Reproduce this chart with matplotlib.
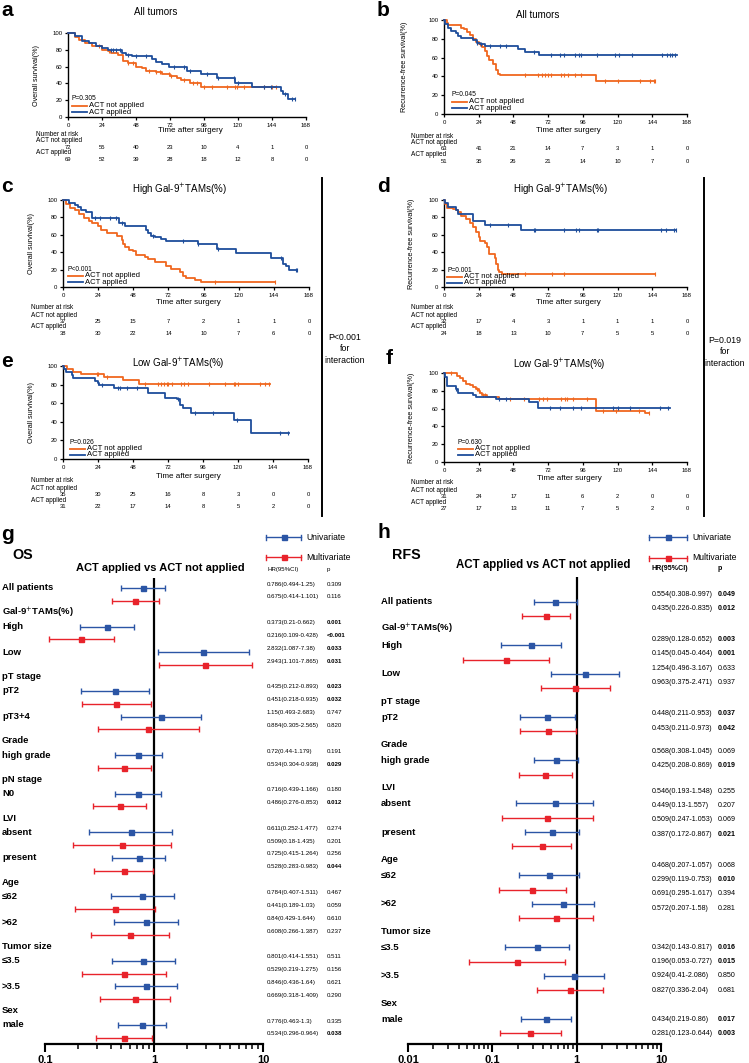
import matplotlib
matplotlib.use('Agg')
import matplotlib.pyplot as plt
import numpy as np
from matplotlib.lines import Line2D
from matplotlib.transforms import blended_transform_factory

# ---------------- data: Kaplan-Meier curves (time in months, survival %) ----------------
a_no_t = [0, 5, 8, 12, 17, 24, 28, 30, 35, 39, 42, 48, 52, 55, 62, 66, 72, 77, 80, 86, 94]
a_no_s = [100, 95, 92, 88, 85, 80, 78, 76, 74, 67, 64, 60, 58, 55, 53, 51, 49, 47, 44, 40, 36]
a_no_cens = [22, 29, 42, 46, 57, 62, 65, 71, 73, 82, 88, 91, 96, 102, 112, 118, 119, 124, 138, 144, 147]
a_yes_t = [0, 5, 10, 15, 20, 24, 28, 38, 41, 45, 59, 62, 66, 71, 84, 94, 105, 118, 130, 150, 152, 155]
a_yes_s = [100, 96, 91, 88, 85, 82, 80, 76, 74, 73, 69, 66, 63, 60, 55, 51, 47, 41, 36, 31, 27, 22]
a_yes_cens = [30, 32, 34, 37, 42, 48, 55, 75, 82, 86, 98, 106, 117, 120, 138, 143, 153, 158, 160]

b_no_t = [0, 2, 3, 12, 14, 16, 18, 20, 22, 24, 26, 28, 30, 31, 34, 36, 37, 39, 105]
b_no_s = [100, 97, 95, 92, 90, 87, 84, 80, 77, 74, 71, 67, 62, 57, 53, 47, 43, 42, 35]
b_no_cens = [25, 56, 65, 67.5, 70, 72, 74, 81, 83, 86, 90.5, 95, 111, 120, 135.6, 142.6, 145, 146]
b_yes_t = [0, 1, 3, 5, 8, 10, 12, 20, 23, 25, 28, 51, 56, 66]
b_yes_s = [100, 96, 91, 88, 86, 83, 81, 79, 76, 74, 72, 69, 66, 63]
b_yes_cens = [23, 25.4, 31.7, 39, 43, 62, 74, 80, 83, 90.6, 93.4, 94.5, 106, 118, 121, 130,
              151, 154, 156, 157.6, 160]

c_no_t = [0, 2, 5, 8, 11, 14, 18, 20, 24, 26, 30, 37, 40, 41, 42, 45, 48, 50, 56, 58, 63,
          70, 74, 80, 82, 84, 90, 94]
c_no_s = [100, 95, 91, 89, 84, 79, 76, 73, 70, 65, 62, 59, 54, 49, 46, 43, 41, 37, 34, 32, 29,
          24, 21, 17, 13, 10, 8, 6]
c_no_cens = [104, 145]
c_yes_t = [0, 4, 8, 10, 12, 16, 20, 38, 42, 57, 58, 60, 63, 67, 70, 92, 105, 118, 142, 150, 152, 154]
c_yes_s = [100, 97, 94, 92, 89, 86, 79, 73, 70, 66, 62, 59, 57, 55, 53, 50, 44, 39, 33, 27, 24, 20]
c_yes_cens = [22, 25, 32, 36, 40, 61.5, 82, 92, 106, 149, 159, 160]

d_no_t = [0, 1, 2, 6, 8, 10, 12, 15, 18, 20, 22, 24, 25, 28, 30, 31, 35, 36, 37, 38, 40]
d_no_s = [100, 95, 91, 90, 89, 86, 82, 78, 73, 69, 63, 57, 53, 51, 46, 38, 33, 27, 20, 17, 15]
d_no_cens = [56, 75, 83, 146]
d_yes_t = [0, 1, 3, 8, 10, 20, 28, 53]
d_yes_s = [100, 96, 92, 88, 84, 76, 71, 65]
d_yes_cens = [31.6, 44, 62, 62.6, 83, 91.5, 93, 106, 106.5, 150, 153.7, 158.8, 160.6]

e_no_t = [0, 3, 7, 12, 28, 41, 52]
e_no_s = [100, 97, 94, 91, 88, 85, 81]
e_no_cens = [23, 24, 30, 56, 65, 67, 69, 71, 72, 74.5, 81, 83, 86, 100, 111, 117, 118, 120,
             135, 138.5, 141]
e_yes_t = [0, 1, 2, 6, 7, 22, 24, 25, 35, 58, 70, 78, 80, 82, 88, 117, 129]
e_yes_s = [100, 97, 94, 90, 87, 84, 82, 80, 76, 71, 66, 64, 58, 55, 50, 42, 28]
e_yes_cens = [24, 26.5, 38, 39, 43.6, 50.5, 78.6, 90.5, 103, 119, 149, 154.5]

f_no_t = [0, 9, 11, 13, 15, 18, 20, 22, 24, 25, 26, 30, 38, 105, 139]
f_no_s = [100, 97, 94, 91, 88, 86, 84, 82, 80, 77, 75, 73, 71, 57, 55]
f_no_cens = [4.6, 22.6, 24.4, 27, 28, 45.6, 55, 66, 68.7, 71, 81, 83.6, 85, 89, 98.6, 110,
             119, 135, 142]
f_yes_t = [0, 1, 2, 8, 10, 20, 22, 36, 59, 65]
f_yes_s = [100, 95, 85, 82, 77, 75, 73, 71, 67, 61]
f_yes_cens = [8.3, 38, 43, 73, 80, 89, 95, 117, 120, 128.6, 149, 155]

# numbers at risk (months 0, 24, ..., 168)
risk_times = [0, 24, 48, 72, 96, 120, 144, 168]
a_risk = ([72, 55, 40, 23, 10, 4, 1, 0], [69, 52, 39, 28, 18, 12, 8, 0])
b_risk = ([63, 41, 21, 14, 7, 3, 1, 0], [51, 35, 26, 21, 14, 10, 7, 0])
c_risk = ([37, 25, 15, 7, 2, 1, 1, 0], [38, 30, 22, 14, 10, 7, 6, 0])
d_risk = ([32, 17, 4, 3, 1, 1, 1, 0], [24, 18, 13, 10, 7, 5, 5, 0])
e_risk = ([35, 30, 25, 16, 8, 3, 0, 0], [31, 22, 17, 14, 8, 5, 2, 0])
f_risk = ([31, 24, 17, 11, 6, 2, 0, 0], [27, 17, 13, 11, 7, 5, 2, 0])

pvals = ['P=0.305', 'P=0.045', 'P<0.001', 'P=0.001', 'P=0.026', 'P=0.630']

# ---------------- data: forest plots ----------------
os_rows = ['All patients', 'High', 'Low', 'pT2', 'pT3+4', 'high grade', 'N0', 'absent', 'present',
           '≤62', '>62', '≤3.5', '>3.5', 'male']
os_heads = [None, 'Gal-9$^{+}$TAMs(%)', None, 'pT stage', None, 'Grade', 'pN stage', 'LVI', None,
            'Age', None, 'Tumor size', None, 'Sex']
os_uni_hr = [0.786, 0.373, 2.832, 0.435, 1.15, 0.72, 0.716, 0.611, 0.725, 0.784, 0.84, 0.801, 0.846, 0.776]
os_uni_lo = [0.494, 0.21, 1.087, 0.212, 0.493, 0.44, 0.439, 0.252, 0.415, 0.407, 0.429, 0.414, 0.436, 0.463]
os_uni_hi = [1.25, 0.662, 7.38, 0.893, 2.683, 1.179, 1.166, 1.477, 1.264, 1.511, 1.644, 1.551, 1.64, 1.3]
os_uni_p = ['0.309', '0.001', '0.033', '0.023', '0.747', '0.191', '0.180', '0.274', '0.256', '0.467',
            '0.610', '0.511', '0.621', '0.335']
os_mul_hr = [0.675, 0.216, 2.943, 0.451, 0.884, 0.534, 0.486, 0.509, 0.528, 0.441, 0.608, 0.529, 0.669, 0.534]
os_mul_lo = [0.414, 0.109, 1.101, 0.218, 0.305, 0.304, 0.276, 0.18, 0.283, 0.189, 0.266, 0.219, 0.318, 0.296]
os_mul_hi = [1.101, 0.428, 7.865, 0.935, 2.565, 0.938, 0.853, 1.435, 0.983, 1.03, 1.387, 1.275, 1.409, 0.964]
os_mul_p = ['0.116', '<0.001', '0.031', '0.032', '0.820', '0.029', '0.012', '0.201', '0.044', '0.059',
            '0.237', '0.156', '0.290', '0.038']

rfs_rows = ['All patients', 'High', 'Low', 'pT2', 'high grade', 'absent', 'present', '≤62', '>62',
            '≤3.5', '>3.5', 'male']
rfs_heads = [None, 'Gal-9$^{+}$TAMs(%)', None, 'pT stage', 'Grade', 'LVI', None, 'Age', None,
             'Tumor size', None, 'Sex']
rfs_uni_hr = [0.554, 0.289, 1.254, 0.448, 0.568, 0.546, 0.509, 0.468, 0.691, 0.342, 0.924, 0.434]
rfs_uni_lo = [0.308, 0.128, 0.496, 0.211, 0.308, 0.193, 0.247, 0.207, 0.295, 0.143, 0.41, 0.219]
rfs_uni_hi = [0.997, 0.652, 3.167, 0.953, 1.045, 1.548, 1.053, 1.057, 1.617, 0.817, 2.086, 0.86]
rfs_uni_p = ['0.049', '0.003', '0.633', '0.037', '0.069', '0.255', '0.069', '0.068', '0.394', '0.016',
             '0.850', '0.017']
rfs_mul_hr = [0.435, 0.145, 0.963, 0.453, 0.425, 0.449, 0.387, 0.299, 0.572, 0.196, 0.827, 0.281]
rfs_mul_lo = [0.226, 0.045, 0.375, 0.211, 0.208, 0.13, 0.172, 0.119, 0.207, 0.053, 0.336, 0.123]
rfs_mul_hi = [0.835, 0.464, 2.471, 0.973, 0.869, 1.557, 0.867, 0.753, 1.58, 0.727, 2.04, 0.644]
rfs_mul_p = ['0.012', '0.001', '0.937', '0.042', '0.019', '0.207', '0.021', '0.010', '0.281', '0.015',
             '0.681', '0.003']

# ---------------- style ----------------
W, H = 749, 1063
ORANGE = '#f0671f'
BLUE = '#1e4d9b'
FBLUE = '#2b55a5'
FRED = '#e8232b'
plt.rcParams['font.family'] = ['Liberation Sans', 'DejaVu Sans']

fig = plt.figure(figsize=(W / 100, H / 100), dpi=100)


def put(x, y, s, **kw):
    kw.setdefault('va', 'center')
    fig.text(x / W, 1 - y / H, s, **kw)


def fline(xs, ys, **kw):
    fig.add_artist(Line2D([v / W for v in xs], [1 - v / H for v in ys],
                          transform=fig.transFigure, **kw))


def axes_px(left, top, right, bottom):
    return fig.add_axes([left / W, 1 - bottom / H, (right - left) / W, (bottom - top) / H])


def draw_curve(ax, t, s, cens, end, color):
    ax.step(list(t) + [end], list(s) + [s[-1]], where='post', color=color, lw=1.3,
            clip_on=False, zorder=3)
    idx = np.searchsorted(t, cens, side='right') - 1
    ax.plot(cens, np.array(s)[idx], ls='none', marker='|', ms=3, mew=0.8, color=color,
            clip_on=False, zorder=3)


def km_panel(box, letter, letter_xy, title, title_xy, ylabel, ylab_x, no, yes, pval,
             leg, xlab_xy, risk, risk_x, risk_y):
    ax = axes_px(*box)
    draw_curve(ax, *no, color=ORANGE)
    draw_curve(ax, *yes, color=BLUE)
    ax.set_xlim(0, 168)
    ax.set_ylim(0, 100)
    ax.set_xticks(risk_times)
    ax.set_yticks([0, 20, 40, 60, 80, 100])
    for sp in ['top', 'right']:
        ax.spines[sp].set_visible(False)
    for sp in ['left', 'bottom']:
        ax.spines[sp].set_linewidth(1.0)
    ax.tick_params(labelsize=4.3, length=2.5, width=0.9, pad=1.5)
    ax.set_ylabel(ylabel, fontsize=5.2)
    ax.yaxis.set_label_coords(ylab_x, 0.5)
    put(*letter_xy, letter, fontsize=15, fontweight='bold', ha='left')
    put(*title_xy, title, fontsize=7, ha='center')
    put(*xlab_xy, 'Time after surgery', fontsize=5.8, ha='center')
    lx, ly = leg
    put(lx, ly, pval, fontsize=4.8, ha='left')
    for k, (lab, col) in enumerate([('ACT not applied', ORANGE), ('ACT applied', BLUE)]):
        yy = ly + 6.5 * (k + 1)
        fline([lx, lx + 15], [yy, yy], color=col, lw=1.3)
        put(lx + 17, yy, lab, fontsize=5.5, ha='left')
    tr = blended_transform_factory(ax.transData, fig.transFigure)
    labels = ['Number at risk', 'ACT not applied', None, 'ACT applied', None]
    for lab, yy in zip(labels, risk_y):
        if lab:
            put(risk_x, yy, lab, fontsize=4.7, ha='left')
    for row, yy in zip(risk, [risk_y[2], risk_y[4]]):
        for tm, n in zip(risk_times, row):
            ax.text(tm, 1 - yy / H, str(n), transform=tr, fontsize=4.2, ha='center',
                    va='center', clip_on=False)
    return ax


km_panel((68, 33, 306, 117), 'a', (1, 10), 'All tumors', (156, 12), 'Overall survival(%)', -0.118,
         (a_no_t, a_no_s, a_no_cens, 147), (a_yes_t, a_yes_s, a_yes_cens, 160), pvals[0],
         (72, 99), (190, 130), a_risk, 36, [135, 141, 147.5, 153, 159.5])
km_panel((444, 20, 687, 114), 'b', (377, 10), 'All tumors', (538, 15),
         'Recurrence-free survival(%)', -0.15,
         (b_no_t, b_no_s, b_no_cens, 146), (b_yes_t, b_yes_s, b_yes_cens, 161), pvals[1],
         (452, 95), (568, 130), b_risk, 411, [136, 142, 148.5, 155, 161.5])
km_panel((63, 200, 309, 287), 'c', (1, 187), 'High Gal-9$^{+}$TAMs(%)', (179, 189),
         'Overall survival(%)', -0.114,
         (c_no_t, c_no_s, c_no_cens, 145), (c_yes_t, c_yes_s, c_yes_cens, 160), pvals[2],
         (68, 269), (188, 303), c_risk, 31, [308, 315, 321.5, 327, 334])
km_panel((444, 200, 687, 287), 'd', (377, 187), 'High Gal-9$^{+}$TAMs(%)', (560, 189),
         'Recurrence-free survival(%)', -0.12,
         (d_no_t, d_no_s, d_no_cens, 146), (d_yes_t, d_yes_s, d_yes_cens, 160.6), pvals[3],
         (447, 270), (568, 303), d_risk, 411, [308, 315, 321.5, 327, 334])
km_panel((63, 366, 308, 459), 'e', (1, 361), 'Low Gal-9$^{+}$TAMs(%)', (178, 363),
         'Overall survival(%)', -0.114,
         (e_no_t, e_no_s, e_no_cens, 142), (e_yes_t, e_yes_s, e_yes_cens, 155), pvals[4],
         (70, 442), (188, 476), e_risk, 31, [481, 488, 494.5, 500, 507])
km_panel((444, 373, 687, 462), 'f', (386, 359), 'Low Gal-9$^{+}$TAMs(%)', (559, 364),
         'Recurrence-free survival(%)', -0.12,
         (f_no_t, f_no_s, f_no_cens, 142), (f_yes_t, f_yes_s, f_yes_cens, 156), pvals[5],
         (458, 442), (569, 478), f_risk, 411, [483, 490, 496.5, 502, 509])

# interaction brackets
fline([322, 322], [178, 516], color='black', lw=1.4)
fline([704, 704], [178, 516], color='black', lw=1.4)
put(345, 349, 'P<0.001\nfor\ninteraction', fontsize=6.3, ha='center', linespacing=1.3)
put(725, 352, 'P=0.019\nfor\ninteraction', fontsize=6.3, ha='center', linespacing=1.3)


def is_sig(p):
    return float(p.strip('<')) < 0.05


def forest(box, y0, step, xmin, ticks, ticklabels, rows, heads, uni, mul, label_x, hr_x, p_x,
           text_shift, fs_txt, head_bold):
    top_px, bot_px = box[1], box[3]
    ax = axes_px(*box)
    ax.set_xscale('log')
    ax.set_xlim(xmin, 10)
    ax.set_ylim((bot_px - y0) / step, (top_px - y0) / step)
    # slot layout: header line (if any) then univariate / multivariate pair
    slots, head_slots = [], []
    s = 0
    for h in heads:
        if h:
            head_slots.append(s)
            s += 1
        else:
            head_slots.append(None)
        slots.append(s)
        s += 2
    slots = np.array(slots, dtype=float)
    for (hr, lo, hi, p), col, off in [(uni, FBLUE, 0), (mul, FRED, 1)]:
        hr, lo, hi = np.array(hr), np.array(lo), np.array(hi)
        ax.errorbar(hr, slots + off, xerr=[hr - lo, hi - hr], fmt='s', color=col, ms=3.6,
                    elinewidth=1.0, capsize=2.2, capthick=1.0, zorder=3)
    ax.axvline(1, color='black', lw=1.6, zorder=2)
    for sp in ['top', 'right', 'left']:
        ax.spines[sp].set_visible(False)
    ax.spines['bottom'].set_linewidth(1.6)
    ax.set_yticks([])
    ax.set_xticks(ticks)
    ax.set_xticklabels(ticklabels, fontweight='bold', fontsize=8)
    ax.tick_params(axis='x', which='major', length=6, width=1.5, pad=2)
    ax.tick_params(axis='x', which='minor', length=3.5, width=1.1)
    ax.minorticks_on()
    ax.tick_params(axis='y', which='both', left=False)
    tr = blended_transform_factory(fig.transFigure, ax.transData)
    for lab, hd, sl, hs in zip(rows, heads, slots, head_slots):
        ax.text(label_x / W, sl, lab, transform=tr, fontsize=6.8, fontweight='bold',
                va='center', ha='left')
        if hd:
            ax.text(label_x / W, hs - 0.1, hd, transform=tr, fontsize=6.8, fontweight='bold',
                    va='center', ha='left')
    gi = np.cumsum([1 if h else 0 for h in heads])
    for (hr, lo, hi, p), off in [(uni, 0), (mul, 1)]:
        for k in range(len(rows)):
            yy = slots[k] + off + text_shift[gi[k]]
            ax.text(hr_x / W, yy, f'{hr[k]}({lo[k]}-{hi[k]})', transform=tr, fontsize=fs_txt,
                    va='center', ha='left')
            ax.text(p_x / W, yy, p[k], transform=tr, fontsize=fs_txt,
                    fontweight='bold' if is_sig(p[k]) else 'normal', va='center', ha='left')
    hw = 'bold' if head_bold else 'normal'
    ax.text(hr_x / W, (top_px - 9 - y0) / step, 'HR(95%CI)', transform=tr, fontsize=fs_txt,
            fontweight=hw, va='center', ha='left')
    ax.text(p_x / W, (top_px - 9 - y0) / step, 'p', transform=tr, fontsize=fs_txt,
            fontweight=hw, va='center', ha='left')
    return ax


def forest_legend(x1, x2, ys, tx):
    for yy, col, lab in zip(ys, [FBLUE, FRED], ['Univariate', 'Multivariate']):
        fline([x1, x2], [yy, yy], color=col, lw=1.0)
        fline([x1, x1], [yy - 2.5, yy + 2.5], color=col, lw=1.0)
        fline([x2, x2], [yy - 2.5, yy + 2.5], color=col, lw=1.0)
        fline([(x1 + x2) / 2], [yy], color=col, marker='s', ms=3.6, ls='none')
        put(tx, yy, lab, fontsize=6.2, ha='left')


# panel g: OS
forest((45, 578, 263, 1044), 588, 12.85, 0.1, [0.1, 1, 10], ['0.1', '1', '10'],
       os_rows, os_heads, (os_uni_hr, os_uni_lo, os_uni_hi, os_uni_p),
       (os_mul_hr, os_mul_lo, os_mul_hi, os_mul_p), 2, 267, 327,
       [-0.3] * 20, 4.4, False)
put(1, 535, 'g', fontsize=15, fontweight='bold', ha='left')
put(12, 555, 'OS', fontsize=10.3, fontweight='bold', ha='left')
put(160, 568, 'ACT applied vs ACT not applied', fontsize=8.0, fontweight='bold', ha='center')
forest_legend(266, 301, [537, 557], 306)

# panel h: RFS
forest((408, 577, 661, 1044), 602, 14.38, 0.01, [0.01, 0.1, 1, 10], ['0.01', '0.1', '1', '10'],
       rfs_rows, rfs_heads, (rfs_uni_hr, rfs_uni_lo, rfs_uni_hi, rfs_uni_p),
       (rfs_mul_hr, rfs_mul_lo, rfs_mul_hi, rfs_mul_p), 381, 652, 718,
       [-0.55, -0.4, -0.22, -0.62, -0.85, -0.7, 0.0, 0.0], 5.1, True)
put(377, 532, 'h', fontsize=15, fontweight='bold', ha='left')
put(392, 555, 'RFS', fontsize=10.3, fontweight='bold', ha='left')
put(543, 565, 'ACT applied vs ACT not applied', fontsize=8.3, fontweight='bold', ha='center')
forest_legend(649, 687, [537, 558], 692)

fig.savefig('out.png', dpi=100)
